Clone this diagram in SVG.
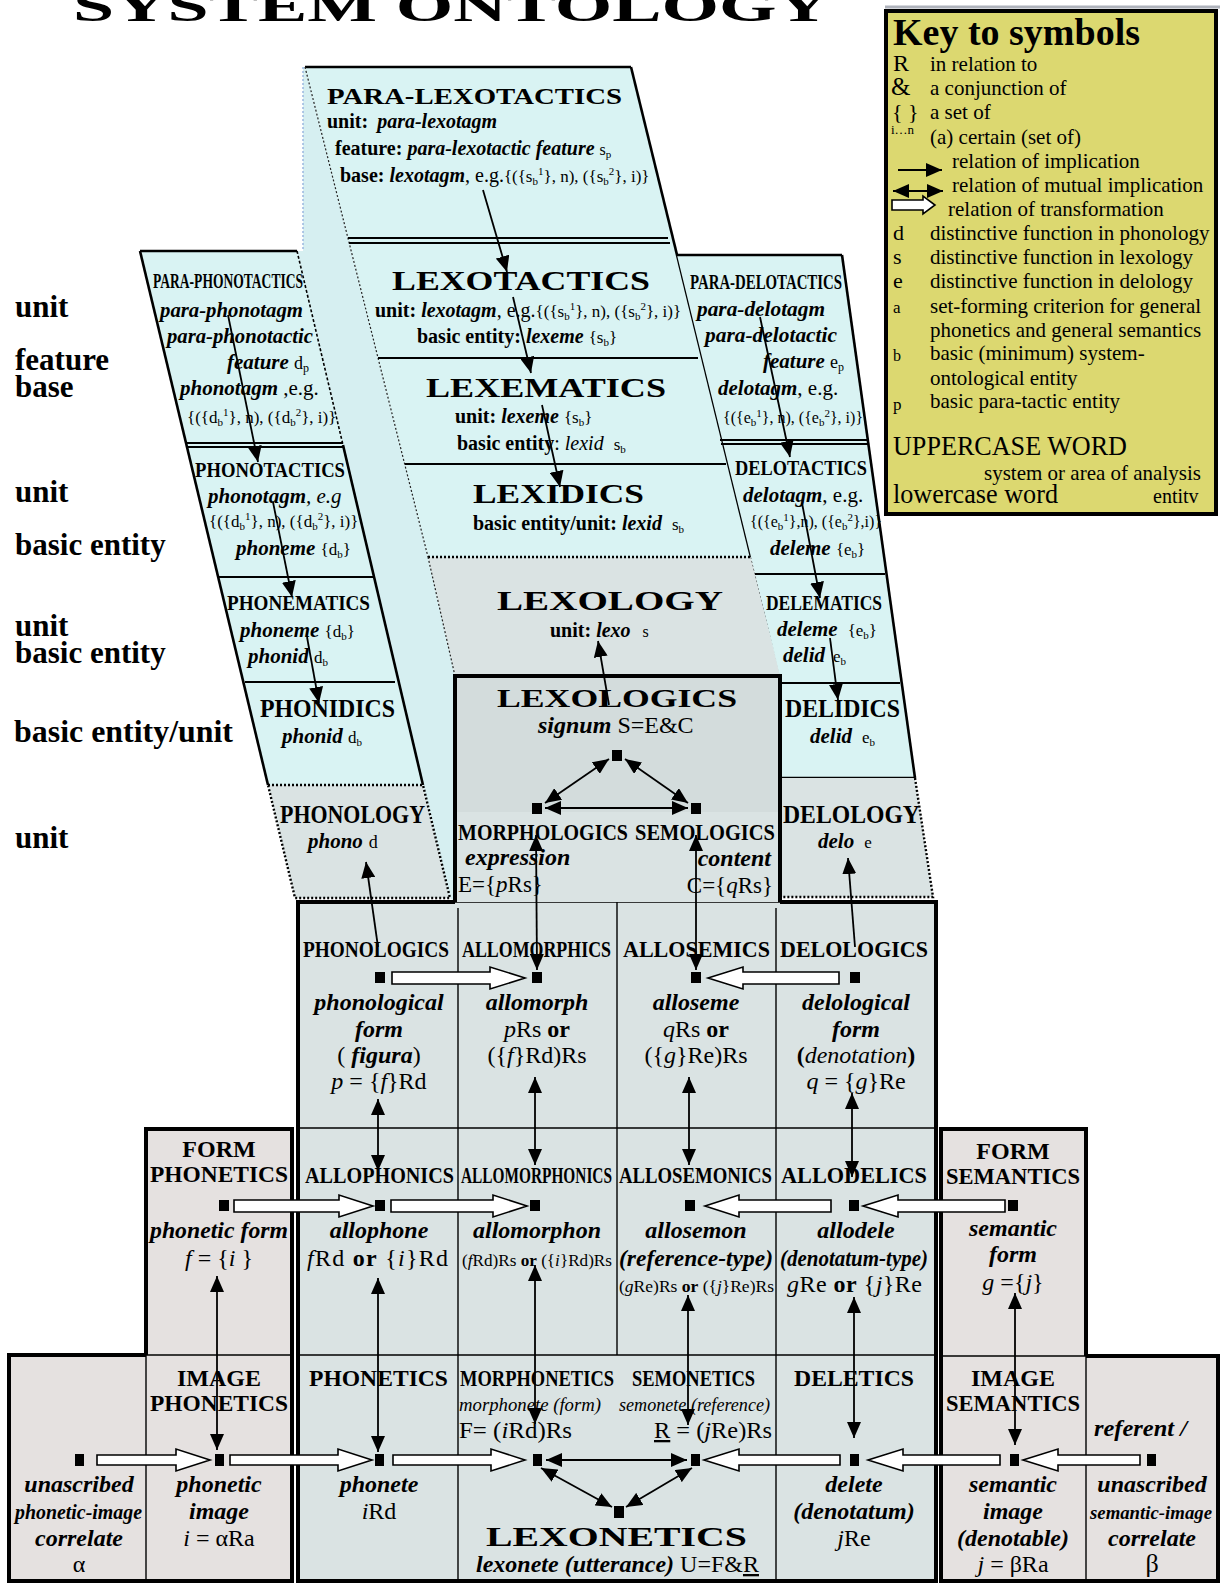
<svg xmlns="http://www.w3.org/2000/svg" width="1220" height="1583" viewBox="0 0 1220 1583">
<style>
text{font-family:"Liberation Serif","Times New Roman",serif;fill:#000}
.b{font-weight:bold}
.i{font-style:italic}
.bi{font-weight:bold;font-style:italic}
.m{text-anchor:middle}
.ln{stroke:#000;stroke-width:2;fill:none}
.thn{stroke:#000;stroke-width:1.4;fill:none}
.edge{stroke:#000;stroke-width:2.6;fill:none}
.thk{stroke:#000;stroke-width:4;fill:none}
.dot{stroke:#000;stroke-width:2.4;stroke-dasharray:2 2;fill:none}
.fdot{stroke:#222;stroke-width:1.2;stroke-dasharray:2 2;fill:none}
.ar{stroke:#000;stroke-width:1.8;fill:none;marker-end:url(#ah)}
.ar2{stroke:#000;stroke-width:1.8;fill:none;marker-start:url(#ah);marker-end:url(#ah)}
.tf{fill:#fff;stroke:#000;stroke-width:1.6}
.nd{fill:#000}
.blue{fill:#d9f3f3}
.gray{fill:#dae3e3}
.side{fill:#e5e1e0}
</style>
<defs>
<marker id="ah" viewBox="0 0 16 14" refX="16" refY="7" markerWidth="16" markerHeight="14" markerUnits="userSpaceOnUse" orient="auto-start-reverse"><path d="M0,0 L16,7 L0,14 z" fill="#000"/></marker>
</defs>

<text x="73" y="21" class="b" font-size="44" textLength="757" lengthAdjust="spacingAndGlyphs">SYSTEM ONTOLOGY</text>

<g id="side-face">
<polygon points="303,67 305,67 428,557 455,676 455,902 450,898 297,251 303,251" fill="#d6eff1"/>
<line x1="303" y1="67" x2="303" y2="251" stroke="#9ab8e0" stroke-width="1.5" stroke-dasharray="2 2"/>
</g>

<g id="lexo-column">
<polygon points="305,67 631,67 751,557 428,557" class="blue"/>
<line x1="305" y1="67" x2="631" y2="67" class="edge"/>
<line x1="631" y1="67" x2="751" y2="557" class="edge"/>
<line x1="305" y1="67" x2="428" y2="557" class="fdot"/>
<line x1="348" y1="238" x2="668" y2="238" class="ln"/>
<line x1="349" y1="243" x2="670" y2="243" class="ln"/>
<line x1="378" y1="358" x2="698" y2="358" class="ln"/>
<line x1="405" y1="464" x2="726" y2="464" class="ln"/>
<text x="327" y="104" class="b" font-size="24" textLength="295" lengthAdjust="spacingAndGlyphs">PARA-LEXOTACTICS</text>
<text x="327" y="128" font-size="20"><tspan class="b">unit:</tspan><tspan class="bi" dx="9">para-lexotagm</tspan></text>
<text x="335" y="155" font-size="20"><tspan class="b">feature: </tspan><tspan class="bi">para-lexotactic feature</tspan> <tspan font-size="16">s<tspan font-size="11" dy="3">p</tspan></tspan></text>
<text x="340" y="182" font-size="20"><tspan class="b">base: </tspan><tspan class="bi">lexotagm</tspan>, e.g.<tspan font-size="17">{({s<tspan font-size="11" dy="3">b</tspan><tspan font-size="11" dy="-10">1</tspan><tspan dy="7">}, n), ({s</tspan><tspan font-size="11" dy="3">b</tspan><tspan font-size="11" dy="-10">2</tspan><tspan dy="7">}, i)}</tspan></tspan></text>
<text x="392" y="290" class="b" font-size="27" textLength="258" lengthAdjust="spacingAndGlyphs">LEXOTACTICS</text>
<text x="375" y="317" font-size="20"><tspan class="b">unit: </tspan><tspan class="bi">lexotagm</tspan>, e.g.<tspan font-size="17">{({s<tspan font-size="11" dy="3">b</tspan><tspan font-size="11" dy="-10">1</tspan><tspan dy="7">}, n), ({s</tspan><tspan font-size="11" dy="3">b</tspan><tspan font-size="11" dy="-10">2</tspan><tspan dy="7">}, i)}</tspan></tspan></text>
<text x="417" y="343" font-size="20"><tspan class="b">basic entity: </tspan><tspan class="bi">lexeme</tspan> <tspan font-size="17">{s<tspan font-size="11" dy="3">b</tspan><tspan dy="-3">}</tspan></tspan></text>
<text x="426" y="397" class="b" font-size="27" textLength="240" lengthAdjust="spacingAndGlyphs">LEXEMATICS</text>
<text x="455" y="423" font-size="20"><tspan class="b">unit: </tspan><tspan class="bi">lexeme</tspan> <tspan font-size="17">{s<tspan font-size="11" dy="3">b</tspan><tspan dy="-3">}</tspan></tspan></text>
<text x="457" y="450" font-size="20"><tspan class="b">basic entity</tspan>: <tspan class="i">lexid</tspan><tspan font-size="17" dx="10">s<tspan font-size="11" dy="3">b</tspan></tspan></text>
<text x="473" y="503" class="b" font-size="27" textLength="171" lengthAdjust="spacingAndGlyphs">LEXIDICS</text>
<text x="473" y="530" font-size="20"><tspan class="b">basic entity/unit: </tspan><tspan class="bi">lexid</tspan><tspan font-size="17" dx="10">s<tspan font-size="11" dy="3">b</tspan></tspan></text>
</g>

<g id="lexology">
<polygon points="428,557 751,557 781,676 455,676" class="gray"/>
<line x1="428" y1="557" x2="751" y2="557" class="dot"/>
<line x1="428" y1="557" x2="455" y2="676" class="fdot"/>
<line x1="751" y1="557" x2="781" y2="676" class="fdot"/>
<text x="497" y="610" class="b" font-size="28" textLength="226" lengthAdjust="spacingAndGlyphs">LEXOLOGY</text>
<text x="550" y="637" font-size="20"><tspan class="b">unit: </tspan><tspan class="bi">lexo</tspan><tspan font-size="16" dx="12">s</tspan></text>
</g>

<g id="delo-column">
<polygon points="677,255 842,255 915,778 780,778 780,676 751,557" class="blue"/>
<line x1="677" y1="255" x2="842" y2="255" class="edge"/>
<line x1="842" y1="255" x2="915" y2="778" class="edge"/>
<line x1="780" y1="778" x2="915" y2="778" class="edge"/>
<line x1="720" y1="440" x2="868" y2="440" class="ln"/>
<line x1="721" y1="444" x2="869" y2="444" class="ln"/>
<line x1="755" y1="574" x2="885" y2="574" class="ln"/>
<line x1="780" y1="683" x2="900" y2="683" class="ln"/>
<text x="690" y="289" class="b" font-size="21" textLength="152" lengthAdjust="spacingAndGlyphs">PARA-DELOTACTICS</text>
<text x="697" y="316" class="bi" font-size="21" textLength="128" lengthAdjust="spacingAndGlyphs">para-delotagm</text>
<text x="705" y="342" class="bi" font-size="21" textLength="132" lengthAdjust="spacingAndGlyphs">para-delotactic</text>
<text x="763" y="368" font-size="21"><tspan class="bi">feature</tspan> <tspan font-size="18">e<tspan font-size="12" dy="3">p</tspan></tspan></text>
<text x="718" y="395" font-size="21"><tspan class="bi">delotagm</tspan>, e.g.</text>
<text x="723" y="423" font-size="16">{({e<tspan font-size="11" dy="3">b</tspan><tspan font-size="11" dy="-9">1</tspan><tspan dy="6">}, n), ({e</tspan><tspan font-size="11" dy="3">b</tspan><tspan font-size="11" dy="-9">2</tspan><tspan dy="6">}, i)}</tspan></text>
<text x="735" y="475" class="b" font-size="22" textLength="132" lengthAdjust="spacingAndGlyphs">DELOTACTICS</text>
<text x="743" y="502" font-size="21"><tspan class="bi">delotagm</tspan>, e.g.</text>
<text x="750" y="527" font-size="16">{({e<tspan font-size="11" dy="3">b</tspan><tspan font-size="11" dy="-9">1</tspan><tspan dy="6">},n), ({e</tspan><tspan font-size="11" dy="3">b</tspan><tspan font-size="11" dy="-9">2</tspan><tspan dy="6">},i)}</tspan></text>
<text x="770" y="555" font-size="21"><tspan class="bi">deleme</tspan> <tspan font-size="17">{e<tspan font-size="11" dy="3">b</tspan><tspan dy="-3">}</tspan></tspan></text>
<text x="766" y="610" class="b" font-size="22" textLength="116" lengthAdjust="spacingAndGlyphs">DELEMATICS</text>
<text x="777" y="636" font-size="21"><tspan class="bi">deleme</tspan><tspan font-size="17" dx="10">{e<tspan font-size="11" dy="3">b</tspan><tspan dy="-3">}</tspan></tspan></text>
<text x="783" y="662" font-size="21"><tspan class="bi">delid</tspan><tspan font-size="17" dx="8">e<tspan font-size="11" dy="3">b</tspan></tspan></text>
<text x="785" y="717" class="b" font-size="25" textLength="115" lengthAdjust="spacingAndGlyphs">DELIDICS</text>
<text x="810" y="743" font-size="21"><tspan class="bi">delid</tspan><tspan font-size="17" dx="10">e<tspan font-size="11" dy="3">b</tspan></tspan></text>
</g>

<g id="delology">
<polygon points="780,778 915,778 933,897 780,897" class="gray"/>
<polyline points="915,778 933,897 780,897" class="dot"/>
<text x="783" y="823" class="b" font-size="25" textLength="137" lengthAdjust="spacingAndGlyphs">DELOLOGY</text>
<text x="818" y="848" font-size="21"><tspan class="bi">delo</tspan><tspan font-size="17" dx="10">e</tspan></text>
</g>

<g id="phono-column">
<polygon points="140,251 297,251 423,785 268,785" class="blue"/>
<line x1="140" y1="251" x2="297" y2="251" class="edge"/>
<line x1="140" y1="251" x2="268" y2="785" class="edge"/>
<line x1="297" y1="251" x2="343" y2="445" stroke="#000" stroke-width="1.6" stroke-dasharray="3 2"/>
<line x1="343" y1="445" x2="423" y2="785" class="edge"/>
<line x1="187" y1="443" x2="343" y2="443" class="ln"/>
<line x1="188" y1="447" x2="344" y2="447" class="ln"/>
<line x1="218" y1="577" x2="373" y2="577" class="ln"/>
<line x1="245" y1="682" x2="395" y2="682" class="ln"/>
<text x="153" y="288" class="b" font-size="21" textLength="150" lengthAdjust="spacingAndGlyphs">PARA-PHONOTACTICS</text>
<text x="160" y="317" class="bi" font-size="21" textLength="143" lengthAdjust="spacingAndGlyphs">para-phonotagm</text>
<text x="167" y="343" class="bi" font-size="21" textLength="146" lengthAdjust="spacingAndGlyphs">para-phonotactic</text>
<text x="227" y="369" font-size="21"><tspan class="bi">feature</tspan> <tspan font-size="18">d<tspan font-size="12" dy="3">p</tspan></tspan></text>
<text x="180" y="395" font-size="21"><tspan class="bi">phonotagm</tspan> ,e.g.</text>
<text x="187" y="423" font-size="17">{({d<tspan font-size="11" dy="3">b</tspan><tspan font-size="11" dy="-10">1</tspan><tspan dy="7">}, n), ({d</tspan><tspan font-size="11" dy="3">b</tspan><tspan font-size="11" dy="-10">2</tspan><tspan dy="7">}, i)}</tspan></text>
<text x="195" y="477" class="b" font-size="22" textLength="150" lengthAdjust="spacingAndGlyphs">PHONOTACTICS</text>
<text x="208" y="503" font-size="21"><tspan class="bi">phonotagm</tspan><tspan class="i">, e.g</tspan></text>
<text x="209" y="527" font-size="17">{({d<tspan font-size="11" dy="3">b</tspan><tspan font-size="11" dy="-10">1</tspan><tspan dy="7">}, n), ({d</tspan><tspan font-size="11" dy="3">b</tspan><tspan font-size="11" dy="-10">2</tspan><tspan dy="7">}, i)}</tspan></text>
<text x="236" y="555" font-size="21"><tspan class="bi">phoneme</tspan> <tspan font-size="17">{d<tspan font-size="11" dy="3">b</tspan><tspan dy="-3">}</tspan></tspan></text>
<text x="227" y="610" class="b" font-size="22" textLength="143" lengthAdjust="spacingAndGlyphs">PHONEMATICS</text>
<text x="240" y="637" font-size="21"><tspan class="bi">phoneme</tspan> <tspan font-size="17">{d<tspan font-size="11" dy="3">b</tspan><tspan dy="-3">}</tspan></tspan></text>
<text x="248" y="663" font-size="21"><tspan class="bi">phonid</tspan> <tspan font-size="17">d<tspan font-size="11" dy="3">b</tspan></tspan></text>
<text x="260" y="717" class="b" font-size="25" textLength="135" lengthAdjust="spacingAndGlyphs">PHONIDICS</text>
<text x="282" y="743" font-size="21"><tspan class="bi">phonid</tspan> <tspan font-size="17">d<tspan font-size="11" dy="3">b</tspan></tspan></text>
</g>

<g id="phonology">
<polygon points="268,785 423,785 450,898 295,898" class="gray"/>
<polygon points="268,785 423,785 450,898 295,898" class="dot"/>
<text x="280" y="823" class="b" font-size="25" textLength="145" lengthAdjust="spacingAndGlyphs">PHONOLOGY</text>
<text x="308" y="848" font-size="21"><tspan class="bi">phono</tspan><tspan font-size="18" dx="6">d</tspan></text>
</g>

<g id="phonetics-side">
<rect x="146" y="1129" width="146" height="227" class="side"/>
<rect x="9" y="1355" width="283" height="226" class="side"/>
<path d="M146,1355 V1129 H292 V1581 H9 V1355 H146" class="thk" stroke-width="3.5"/>
<line x1="146" y1="1355" x2="292" y2="1355" class="thn"/>
<line x1="146" y1="1355" x2="146" y2="1581" class="thn"/>
</g>
<g id="semantics-side">
<rect x="941" y="1129" width="145" height="227" class="side"/>
<rect x="941" y="1356" width="277" height="225" class="side"/>
<path d="M1086,1356 V1129 H941 V1581 H1218 V1356 H1086" class="thk" stroke-width="3.5"/>
<line x1="941" y1="1356" x2="1086" y2="1356" class="thn"/>
<line x1="1086" y1="1356" x2="1086" y2="1581" class="thn"/>
</g>

<g id="main-box">
<rect x="298" y="902" width="638" height="679" class="gray"/>
<path d="M455,902 H298 V1581 H936 V902 H780" class="thk" stroke-width="3.5"/>
<line x1="455" y1="902" x2="780" y2="902" class="thn"/>
<line x1="458" y1="908" x2="458" y2="1581" class="thn"/>
<line x1="776" y1="908" x2="776" y2="1581" class="thn"/>
<line x1="617" y1="835" x2="617" y2="1355" class="thn"/>
<line x1="298" y1="1128" x2="936" y2="1128" class="thn"/>
<line x1="298" y1="1355" x2="936" y2="1355" class="thn"/>
</g>

<g id="lexologics">
<rect x="455" y="676" width="325" height="136" fill="#d3dcdc"/>
<rect x="455" y="812" width="325" height="90" class="gray"/>
<path d="M455,902 V676 H780 V902" class="thk"/>
<text x="497" y="707" class="b" font-size="26" textLength="240" lengthAdjust="spacingAndGlyphs">LEXOLOGICS</text>
<text x="538" y="733" font-size="24"><tspan class="bi">signum</tspan> S=E&amp;C</text>
<text x="458" y="840" class="b" font-size="24" textLength="170" lengthAdjust="spacingAndGlyphs">MORPHOLOGICS</text>
<text x="635" y="840" class="b" font-size="24" textLength="140" lengthAdjust="spacingAndGlyphs">SEMOLOGICS</text>
<text x="465" y="865" class="bi" font-size="24">expression</text>
<text x="458" y="892" font-size="23">E={<tspan class="i">p</tspan>Rs}</text>
<text x="771" y="866" class="bi" font-size="24" text-anchor="end">content</text>
<text x="773" y="893" font-size="23" text-anchor="end">C={<tspan class="i">q</tspan>Rs}</text>
</g>

<g id="phonologics">
<text x="303" y="957" class="b" font-size="24" textLength="146" lengthAdjust="spacingAndGlyphs">PHONOLOGICS</text>
<text x="379" y="1010" class="bi m" font-size="24">phonological</text>
<text x="379" y="1037" class="bi m" font-size="24">form</text>
<text x="379" y="1063" class="m" font-size="24">( <tspan class="bi">figura</tspan>)</text>
<text x="379" y="1089" class="m" font-size="24"><tspan class="i">p</tspan> = {<tspan class="i">f</tspan>}Rd</text>
</g>
<g id="allomorphics">
<text x="462" y="957" class="b" font-size="24" textLength="149" lengthAdjust="spacingAndGlyphs">ALLOMORPHICS</text>
<text x="537" y="1010" class="bi m" font-size="24">allomorph</text>
<text x="537" y="1037" class="m" font-size="24"><tspan class="i">p</tspan>Rs <tspan class="b">or</tspan></text>
<text x="537" y="1063" class="m" font-size="24">({<tspan class="i">f</tspan>}Rd)Rs</text>
</g>
<g id="allosemics">
<text x="623" y="957" class="b" font-size="24" textLength="147" lengthAdjust="spacingAndGlyphs">ALLOSEMICS</text>
<text x="696" y="1010" class="bi m" font-size="24">alloseme</text>
<text x="696" y="1037" class="m" font-size="24"><tspan class="i">q</tspan>Rs <tspan class="b">or</tspan></text>
<text x="696" y="1063" class="m" font-size="24">({<tspan class="i">g</tspan>}Re)Rs</text>
</g>
<g id="delologics">
<text x="780" y="957" class="b" font-size="24" textLength="148" lengthAdjust="spacingAndGlyphs">DELOLOGICS</text>
<text x="856" y="1010" class="bi m" font-size="24">delological</text>
<text x="856" y="1037" class="bi m" font-size="24">form</text>
<text x="856" y="1063" class="m" font-size="24"><tspan class="b">(</tspan><tspan class="i">denotation</tspan><tspan class="b">)</tspan></text>
<text x="856" y="1089" class="m" font-size="24"><tspan class="i">q</tspan> = {<tspan class="i">g</tspan>}Re</text>
</g>

<g id="form-phonetics">
<text x="219" y="1157" class="b m" font-size="24">FORM</text>
<text x="150" y="1182" class="b" font-size="24" textLength="138" lengthAdjust="spacingAndGlyphs">PHONETICS</text>
<text x="150" y="1238" class="bi" font-size="23" textLength="138" lengthAdjust="spacingAndGlyphs">phonetic  form</text>
<text x="219" y="1266" class="m" font-size="24"><tspan class="i">f</tspan> = {<tspan class="i">i</tspan> }</text>
</g>
<g id="allophonics">
<text x="305" y="1183" class="b" font-size="24" textLength="149" lengthAdjust="spacingAndGlyphs">ALLOPHONICS</text>
<text x="379" y="1238" class="bi m" font-size="24">allophone</text>
<text x="307" y="1266" font-size="24" textLength="141" lengthAdjust="spacing"><tspan class="i">f</tspan>Rd <tspan class="b">or</tspan> {<tspan class="i">i</tspan>}Rd</text>
</g>
<g id="allomorphonics">
<text x="461" y="1183" class="b" font-size="24" textLength="151" lengthAdjust="spacingAndGlyphs">ALLOMORPHONICS</text>
<text x="537" y="1238" class="bi m" font-size="24">allomorphon</text>
<text x="462" y="1266" font-size="17" textLength="150" lengthAdjust="spacingAndGlyphs">(<tspan class="i">f</tspan>Rd)Rs <tspan class="b">or</tspan> ({<tspan class="i">i</tspan>}Rd)Rs</text>
</g>
<g id="allosemonics">
<text x="619" y="1183" class="b" font-size="24" textLength="153" lengthAdjust="spacingAndGlyphs">ALLOSEMONICS</text>
<text x="696" y="1238" class="bi m" font-size="24">allosemon</text>
<text x="619" y="1266" class="bi" font-size="24" textLength="154" lengthAdjust="spacingAndGlyphs">(reference-type)</text>
<text x="619" y="1292" font-size="17" textLength="155" lengthAdjust="spacingAndGlyphs">(<tspan class="i">g</tspan>Re)Rs <tspan class="b">or</tspan> ({<tspan class="i">j</tspan>}Re)Rs</text>
</g>
<g id="allodelics">
<text x="781" y="1183" class="b" font-size="24" textLength="146" lengthAdjust="spacingAndGlyphs">ALLODELICS</text>
<text x="856" y="1238" class="bi m" font-size="24">allodele</text>
<text x="780" y="1266" class="bi" font-size="24" textLength="148" lengthAdjust="spacingAndGlyphs">(denotatum-type)</text>
<text x="787" y="1292" font-size="24" textLength="135" lengthAdjust="spacing"><tspan class="i">g</tspan>Re <tspan class="b">or</tspan> {<tspan class="i">j</tspan>}Re</text>
</g>
<g id="form-semantics">
<text x="1013" y="1159" class="b m" font-size="24">FORM</text>
<text x="946" y="1184" class="b" font-size="24" textLength="134" lengthAdjust="spacingAndGlyphs">SEMANTICS</text>
<text x="1013" y="1236" class="bi m" font-size="24">semantic</text>
<text x="1013" y="1262" class="bi m" font-size="24">form</text>
<text x="1013" y="1290" class="m" font-size="24"><tspan class="i">g</tspan>  ={<tspan class="i">j</tspan>}</text>
</g>

<g id="unascribed-phonetic">
<text x="79" y="1492" class="bi m" font-size="24">unascribed</text>
<text x="15" y="1519" class="bi" font-size="20" textLength="127" lengthAdjust="spacingAndGlyphs">phonetic-image</text>
<text x="79" y="1546" class="bi m" font-size="24">correlate</text>
<text x="79" y="1572" class="m" font-size="24">α</text>
</g>
<g id="image-phonetics">
<text x="219" y="1386" class="b m" font-size="24">IMAGE</text>
<text x="150" y="1411" class="b" font-size="24" textLength="138" lengthAdjust="spacingAndGlyphs">PHONETICS</text>
<text x="219" y="1492" class="bi m" font-size="24">phonetic</text>
<text x="219" y="1519" class="bi m" font-size="24">image</text>
<text x="219" y="1546" class="m" font-size="24"><tspan class="i">i</tspan> = αRa</text>
</g>
<g id="phonetics">
<text x="309" y="1386" class="b" font-size="24" textLength="139" lengthAdjust="spacingAndGlyphs">PHONETICS</text>
<text x="379" y="1492" class="bi m" font-size="24">phonete</text>
<text x="379" y="1519" class="m" font-size="24"><tspan class="i">i</tspan>Rd</text>
</g>
<g id="morphonetics">
<text x="460" y="1386" class="b" font-size="24" textLength="154" lengthAdjust="spacingAndGlyphs">MORPHONETICS</text>
<text x="459" y="1411" class="i" font-size="19" textLength="142" lengthAdjust="spacingAndGlyphs">morphonete (form)</text>
<text x="459" y="1438" font-size="23" textLength="113" lengthAdjust="spacingAndGlyphs">F= (<tspan class="i">i</tspan>Rd)Rs</text>
</g>
<g id="semonetics">
<text x="632" y="1386" class="b" font-size="24" textLength="123" lengthAdjust="spacingAndGlyphs">SEMONETICS</text>
<text x="619" y="1411" class="i" font-size="19" textLength="151" lengthAdjust="spacingAndGlyphs">semonete (reference)</text>
<text x="654" y="1438" font-size="23" textLength="118" lengthAdjust="spacingAndGlyphs"><tspan text-decoration="underline">R</tspan> = (<tspan class="i">j</tspan>Re)Rs</text>
</g>
<g id="lexonetics">
<text x="486" y="1546" class="b" font-size="28" textLength="261" lengthAdjust="spacingAndGlyphs">LEXONETICS</text>
<text x="476" y="1572" font-size="23" textLength="283" lengthAdjust="spacingAndGlyphs"><tspan class="bi">lexonete (utterance)</tspan> U=F&amp;<tspan text-decoration="underline">R</tspan></text>
</g>
<g id="deletics">
<text x="794" y="1386" class="b" font-size="24" textLength="120" lengthAdjust="spacingAndGlyphs">DELETICS</text>
<text x="854" y="1492" class="bi m" font-size="24">delete</text>
<text x="854" y="1519" class="bi m" font-size="24">(denotatum)</text>
<text x="854" y="1546" class="m" font-size="24"><tspan class="i">j</tspan>Re</text>
</g>
<g id="image-semantics">
<text x="1013" y="1386" class="b m" font-size="24">IMAGE</text>
<text x="946" y="1411" class="b" font-size="24" textLength="134" lengthAdjust="spacingAndGlyphs">SEMANTICS</text>
<text x="1013" y="1492" class="bi m" font-size="24">semantic</text>
<text x="1013" y="1519" class="bi m" font-size="24">image</text>
<text x="1013" y="1546" class="bi m" font-size="24">(denotable)</text>
<text x="1013" y="1572" class="m" font-size="24"><tspan class="i">j</tspan> = βRa</text>
</g>
<g id="unascribed-semantic">
<text x="1094" y="1436" class="bi" font-size="24" textLength="93" lengthAdjust="spacingAndGlyphs">referent /</text>
<text x="1152" y="1492" class="bi m" font-size="24">unascribed</text>
<text x="1090" y="1519" class="bi" font-size="19" textLength="122" lengthAdjust="spacingAndGlyphs">semantic-image</text>
<text x="1152" y="1546" class="bi m" font-size="24">correlate</text>
<text x="1152" y="1572" class="m" font-size="26">β</text>
</g>

<g id="left-labels" font-size="31">
<text x="15" y="317" class="b">unit</text>
<text x="15" y="370" class="b">feature</text>
<text x="15" y="397" class="b">base</text>
<text x="15" y="502" class="b">unit</text>
<text x="15" y="555" class="b">basic entity</text>
<text x="15" y="636" class="b">unit</text>
<text x="15" y="663" class="b">basic entity</text>
<text x="14" y="742" class="b" textLength="219" lengthAdjust="spacingAndGlyphs">basic entity/unit</text>
<text x="15" y="848" class="b">unit</text>
</g>

<g id="nodes">
<rect x="612" y="750" width="10" height="11" class="nd"/>
<rect x="532" y="803" width="10" height="11" class="nd"/>
<rect x="691" y="803" width="10" height="11" class="nd"/>
<rect x="375" y="972" width="10" height="11" class="nd"/>
<rect x="532" y="972" width="10" height="11" class="nd"/>
<rect x="691" y="972" width="10" height="11" class="nd"/>
<rect x="850" y="972" width="10" height="11" class="nd"/>
<rect x="219" y="1200" width="10" height="11" class="nd"/>
<rect x="375" y="1200" width="10" height="11" class="nd"/>
<rect x="530" y="1200" width="10" height="11" class="nd"/>
<rect x="685" y="1200" width="10" height="11" class="nd"/>
<rect x="849" y="1200" width="10" height="11" class="nd"/>
<rect x="1008" y="1200" width="10" height="11" class="nd"/>
<rect x="75" y="1454" width="9" height="12" class="nd"/>
<rect x="215" y="1454" width="9" height="12" class="nd"/>
<rect x="375" y="1454" width="9" height="12" class="nd"/>
<rect x="533" y="1454" width="9" height="12" class="nd"/>
<rect x="691" y="1454" width="9" height="12" class="nd"/>
<rect x="850" y="1454" width="9" height="12" class="nd"/>
<rect x="1010" y="1454" width="9" height="12" class="nd"/>
<rect x="1147" y="1454" width="9" height="12" class="nd"/>
<rect x="614" y="1506" width="10" height="12" class="nd"/>
</g>

<g id="connectors">
<line x1="483" y1="190" x2="507" y2="272" class="ar"/>
<line x1="513" y1="297" x2="531" y2="373" class="ar"/>
<line x1="542" y1="405" x2="560" y2="487" class="ar"/>
<line x1="609" y1="705" x2="598" y2="641" class="ar"/>
<line x1="228" y1="315" x2="258" y2="462" class="ar"/>
<line x1="273" y1="502" x2="292" y2="597" class="ar"/>
<line x1="307" y1="637" x2="319" y2="703" class="ar"/>
<line x1="378" y1="947" x2="366" y2="862" class="ar"/>
<line x1="760" y1="317" x2="790" y2="457" class="ar"/>
<line x1="802" y1="503" x2="820" y2="598" class="ar"/>
<line x1="830" y1="638" x2="838" y2="700" class="ar"/>
<line x1="855" y1="947" x2="848" y2="858" class="ar"/>
<line x1="545" y1="803" x2="609" y2="759" class="ar2"/>
<line x1="688" y1="803" x2="625" y2="759" class="ar2"/>
<line x1="545" y1="808" x2="688" y2="808" class="ar2"/>
<line x1="536" y1="835" x2="537" y2="970" class="ar2"/>
<line x1="696" y1="835" x2="696" y2="970" class="ar2"/>
<line x1="378" y1="1099" x2="378" y2="1171" class="ar2"/>
<line x1="535" y1="1077" x2="535" y2="1165" class="ar2"/>
<line x1="689" y1="1077" x2="689" y2="1165" class="ar2"/>
<line x1="852" y1="1093" x2="852" y2="1177" class="ar2"/>
<line x1="217" y1="1276" x2="217" y2="1450" class="ar2"/>
<line x1="378" y1="1278" x2="378" y2="1452" class="ar2"/>
<line x1="535" y1="1265" x2="535" y2="1424" class="ar2"/>
<line x1="688" y1="1295" x2="688" y2="1425" class="ar2"/>
<line x1="854" y1="1297" x2="854" y2="1438" class="ar2"/>
<line x1="1015" y1="1293" x2="1015" y2="1445" class="ar2"/>
<line x1="546" y1="1460" x2="687" y2="1460" class="ar2"/>
<line x1="541" y1="1468" x2="612" y2="1507" class="ar2"/>
<line x1="692" y1="1468" x2="626" y2="1507" class="ar2"/>
<polygon points="392,972 490,972 490,967 525,978 490,989 490,984 392,984" class="tf"/>
<polygon points="839,972 743,972 743,967 708,978 743,989 743,984 839,984" class="tf"/>
<polygon points="234,1200 339,1200 339,1195 373,1206 339,1217 339,1212 234,1212" class="tf"/>
<polygon points="391,1200 493,1200 493,1195 527,1206 493,1217 493,1212 391,1212" class="tf"/>
<polygon points="831,1200 739,1200 739,1195 705,1206 739,1217 739,1212 831,1212" class="tf"/>
<polygon points="1005,1200 898,1200 898,1195 863,1206 898,1217 898,1212 1005,1212" class="tf"/>
<polygon points="97,1455 176,1455 176,1449 210,1460 176,1471 176,1465 97,1465" class="tf"/>
<polygon points="230,1455 338,1455 338,1449 372,1460 338,1471 338,1465 230,1465" class="tf"/>
<polygon points="393,1455 491,1455 491,1449 525,1460 491,1471 491,1465 393,1465" class="tf"/>
<polygon points="840,1455 739,1455 739,1449 704,1460 739,1471 739,1465 840,1465" class="tf"/>
<polygon points="1000,1455 903,1455 903,1449 868,1460 903,1471 903,1465 1000,1465" class="tf"/>
<polygon points="1140,1455 1058,1455 1058,1449 1023,1460 1058,1471 1058,1465 1140,1465" class="tf"/>
</g>

<g id="key">
<line x1="885" y1="7" x2="1220" y2="7" stroke="#aeb2bb" stroke-width="3"/>
<rect x="886" y="11" width="330" height="503" fill="#dcd870" stroke="#000" stroke-width="4"/>
<text x="893" y="45" class="b" font-size="38">Key to symbols</text>
<text x="893" y="71" font-size="24">R</text>
<text x="930" y="71" font-size="21">in relation to</text>
<text x="891" y="95" font-size="25">&amp;</text>
<text x="930" y="95" font-size="21">a conjunction of</text>
<text x="892" y="119" font-size="22">{ }</text>
<text x="930" y="119" font-size="21">a set of</text>
<text x="891" y="134" font-size="13">i…n</text>
<text x="930" y="144" font-size="21">(a) certain (set of)</text>
<line x1="898" y1="170" x2="942" y2="170" class="ar"/>
<text x="952" y="168" font-size="21">relation of implication</text>
<line x1="893" y1="191" x2="943" y2="191" class="ar2"/>
<text x="952" y="192" font-size="21">relation of mutual implication</text>
<polygon points="892,200 923,200 923,196 935,205 923,214 923,210 892,210" class="tf"/>
<text x="948" y="216" font-size="21">relation of transformation</text>
<text x="893" y="240" font-size="22">d</text>
<text x="930" y="240" font-size="21">distinctive function in phonology</text>
<text x="893" y="264" font-size="22">s</text>
<text x="930" y="264" font-size="21">distinctive function in lexology</text>
<text x="893" y="288" font-size="22">e</text>
<text x="930" y="288" font-size="21">distinctive function in delology</text>
<text x="893" y="313" font-size="17">a</text>
<text x="930" y="313" font-size="21">set-forming criterion for general</text>
<text x="930" y="337" font-size="21">phonetics and general semantics</text>
<text x="893" y="361" font-size="16">b</text>
<text x="930" y="360" font-size="21">basic (minimum) system-</text>
<text x="930" y="385" font-size="21">ontological entity</text>
<text x="893" y="410" font-size="17">p</text>
<text x="930" y="408" font-size="21">basic para-tactic entity</text>
<text x="893" y="455" font-size="27" textLength="234" lengthAdjust="spacingAndGlyphs">UPPERCASE WORD</text>
<text x="984" y="480" font-size="21">system or area of analysis</text>
<text x="893" y="503" font-size="27" textLength="165" lengthAdjust="spacingAndGlyphs">lowercase word</text>
<text x="1153" y="503" font-size="20">entitv</text>
</g>
</svg>
